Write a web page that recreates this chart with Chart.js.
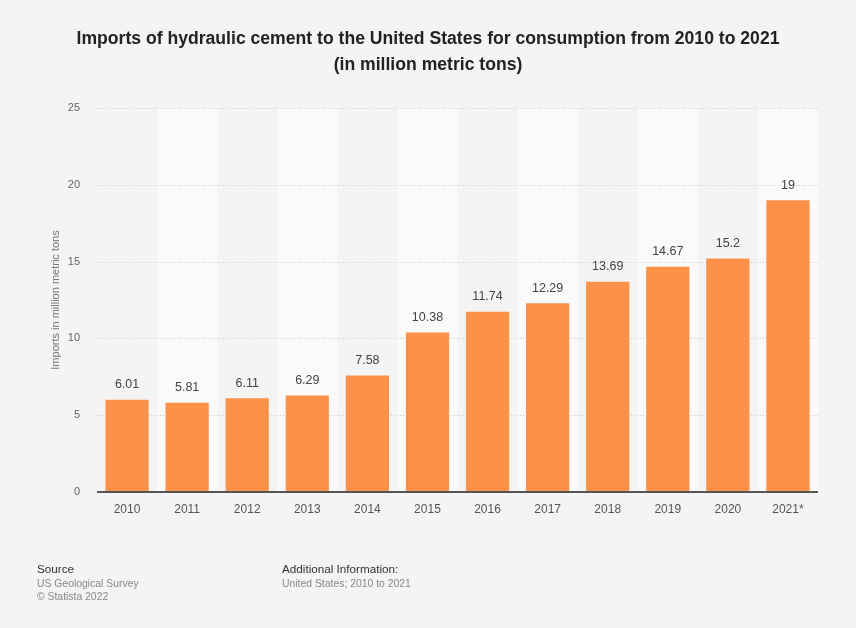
<!DOCTYPE html>
<html>
<head>
<meta charset="utf-8">
<script src="https://cdn.jsdelivr.net/npm/chart.js@4.4.0/dist/chart.umd.min.js"></script>
<style>
  html, body { margin: 0; padding: 0; background: #f4f4f4; }
  body { width: 856px; height: 628px; position: relative; overflow: hidden; font-family: "Liberation Sans", Arial, sans-serif; }
  #wrap { position: absolute; left: 0; top: 0; width: 856px; height: 628px; }
  .title { position: absolute; left: 0; width: 856px; text-align: center; font-weight: bold; font-size: 17.6px; color: #222; line-height: 26px; top: 25px; }
  .foot { position: absolute; font-size: 10.4px; line-height: 13.5px; color: #888; }
  .foot b { font-weight: normal; color: #333; font-size: 11.7px; }
</style>
</head>
<body>
<div id="wrap"><canvas id="c" width="856" height="628"></canvas></div>
<div class="title">Imports of hydraulic cement to the United States for consumption from 2010 to 2021<br>(in million metric tons)</div>
<div class="foot" style="left:37px; top:562px;"><b>Source</b><br>US Geological Survey<br>© Statista 2022</div>
<div class="foot" style="left:282px; top:562px;"><b>Additional Information:</b><br>United States; 2010 to 2021</div>
<script>
const categories = ["2010","2011","2012","2013","2014","2015","2016","2017","2018","2019","2020","2021*"];
const imports = [6.01, 5.81, 6.11, 6.29, 7.58, 10.38, 11.74, 12.29, 13.69, 14.67, 15.2, 19];
const yTicks = [0, 5, 10, 15, 20, 25];

const bandsPlugin = {
  id: 'bands',
  beforeDatasetsDraw(chart) {
    const { ctx, chartArea, scales } = chart;
    const x = scales.x;
    const y = scales.y;
    const step = x.getPixelForValue(1) - x.getPixelForValue(0);
    ctx.save();
    ctx.fillStyle = '#fafafa';
    for (let i = 1; i < categories.length; i += 2) {
      const cx = x.getPixelForValue(i);
      ctx.fillRect(cx - step / 2, chartArea.top, step, chartArea.bottom - chartArea.top);
    }
    ctx.strokeStyle = '#c8c8c8';
    ctx.lineWidth = 1;
    ctx.setLineDash([1, 2]);
    yTicks.forEach(v => {
      if (v === 0) return;
      const py = Math.round(y.getPixelForValue(v)) + 0.5;
      ctx.beginPath();
      ctx.moveTo(chartArea.left, py);
      ctx.lineTo(chartArea.right, py);
      ctx.stroke();
    });
    ctx.restore();
  },
  afterDatasetsDraw(chart) {
    const { ctx, chartArea, scales } = chart;
    const meta = chart.getDatasetMeta(0);
    ctx.save();
    // baseline
    const by = scales.y.getPixelForValue(0);
    ctx.strokeStyle = '#555';
    ctx.lineWidth = 2;
    ctx.beginPath();
    ctx.moveTo(chartArea.left, by);
    ctx.lineTo(chartArea.right, by);
    ctx.stroke();
    // labels
    ctx.fillStyle = '#444';
    ctx.font = '12.5px "Liberation Sans", Arial, sans-serif';
    ctx.textAlign = 'center';
    ctx.textBaseline = 'middle';
    meta.data.forEach((bar, i) => {
      ctx.fillText(String(imports[i]), bar.x, bar.y - 15);
    });
    ctx.restore();
  }
};

new Chart(document.getElementById('c'), {
  type: 'bar',
  data: {
    labels: categories,
    datasets: [{
      data: imports,
      backgroundColor: '#fe9148',
      borderWidth: 0,
      barPercentage: 0.72,
      categoryPercentage: 1.0
    }]
  },
  options: {
    responsive: false,
    animation: false,
    devicePixelRatio: 1,
    layout: { padding: { left: 30, right: 38, top: 108, bottom: 106 } },
    plugins: { legend: { display: false }, tooltip: { enabled: false }, title: { display: false } },
    scales: {
      x: {
        grid: { display: false, drawTicks: false },
        border: { display: false },
        ticks: { color: '#555', font: { size: 12, family: '"Liberation Sans", Arial, sans-serif' }, padding: 10, maxRotation: 0 },
        afterFit(s) { s.height = 30; }
      },
      y: {
        min: 0, max: 25,
        afterBuildTicks(s) { s.ticks = yTicks.map(v => ({ value: v })); },
        grid: { display: false, drawTicks: false },
        border: { display: false },
        ticks: { color: '#666', font: { size: 11, family: '"Liberation Sans", Arial, sans-serif' }, padding: 17 },
        title: { display: true, text: 'Imports in million metric tons', color: '#777', font: { size: 11, family: '"Liberation Sans", Arial, sans-serif' }, padding: { top: 19, bottom: 0 } },
        afterFit(s) { s.width = 67; }
      }
    }
  },
  plugins: [bandsPlugin]
});
</script>
</body>
</html>
